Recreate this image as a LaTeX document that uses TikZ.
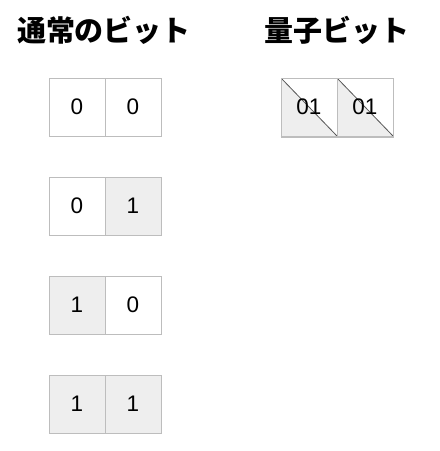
\documentclass[tikz,border=0pt]{standalone}
\usepackage{fontspec}
\setmainfont{Liberation Sans}
\newfontfamily\jpfont{Noto Sans CJK JP}
\definecolor{cellline}{HTML}{BDBDBD}
\definecolor{cellfill}{HTML}{EEEEEE}
\definecolor{diagline}{HTML}{555555}
\tikzset{
    cell/.style={draw=cellline, line width=1pt, minimum width=56pt, minimum height=58pt,
        inner sep=0pt, font=\fontsize{22.5}{26}\selectfont},
    oncell/.style={cell, fill=cellfill},
    qcell/.style={cell, path picture={
        \fill[cellfill] (path picture bounding box.north west) -- (path picture bounding box.south west)
            -- (path picture bounding box.south east) -- cycle;
        \draw[diagline, line width=0.8pt] (path picture bounding box.north west) -- (path picture bounding box.south east);}},
    title/.style={font=\jpfont\bfseries\fontsize{29}{33}\selectfont}
}
\begin{document}
\begin{tikzpicture}[x=1pt,y=-1pt]
    \useasboundingbox (0,0) rectangle (440,451);

    % headings
    \node[title] (ttl) at (104,30) {通常のビット};
    \node[title] (ttq) at (337,30) {量子ビット};

    % classical bits
    \node[cell] (a1) at (77,107) {0};
    \node[cell] (b1) at (133,107) {0};

    \node[cell] (a2) at (77,206) {0};
    \node[oncell] (b2) at (133,206) {1};

    \node[oncell] (a3) at (77,305) {1};
    \node[cell] (b3) at (133,305) {0};

    \node[oncell] (a4) at (77,404) {1};
    \node[oncell] (b4) at (133,404) {1};

    % qubits
    \node[qcell] (q1) at (309,107) {01};
    \node[qcell] (q2) at (365,107) {01};
    \draw[cellline, line width=2pt] (q1.south west) -- (q2.south east);

\end{tikzpicture}
\end{document}
